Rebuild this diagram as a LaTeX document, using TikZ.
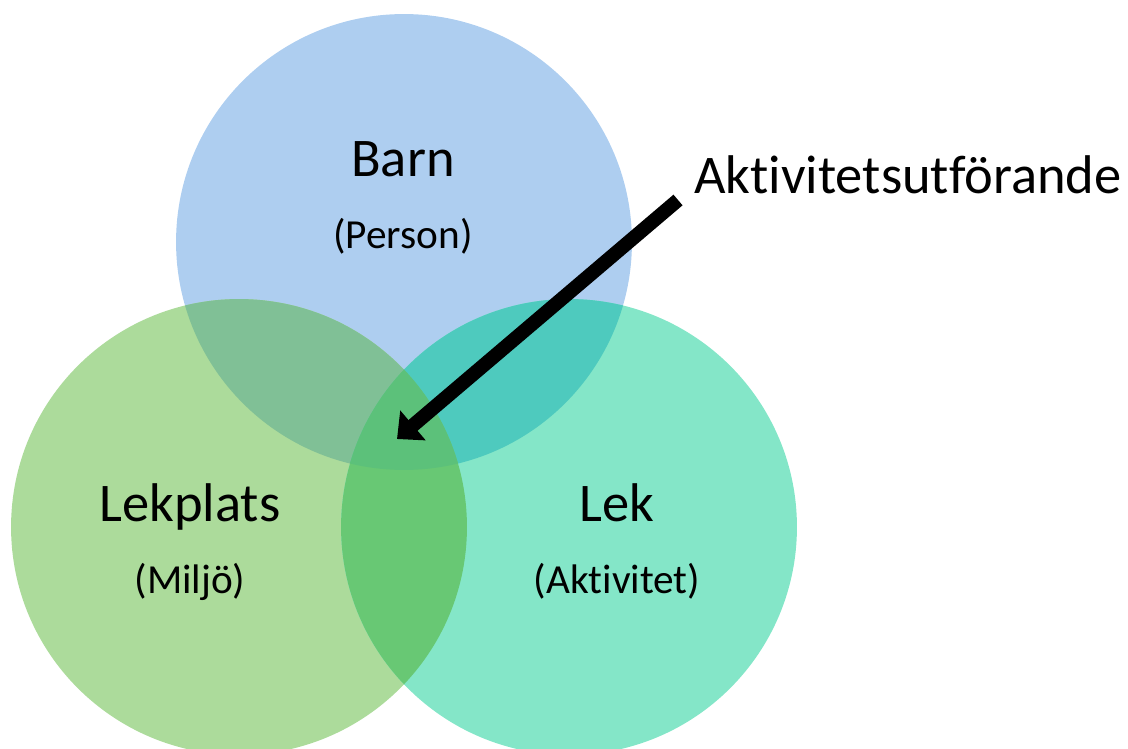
\documentclass[tikz,border=0pt]{standalone}
\usepackage{fontspec}
\setmainfont[Ligatures=NoCommon]{Carlito}
\usetikzlibrary{arrows.meta}
\usetikzlibrary{positioning}
\definecolor{barnblue}{RGB}{174,206,240}
\definecolor{platsgreen}{RGB}{172,219,155}
\definecolor{lekteal}{RGB}{132,230,200}
\definecolor{barnplats}{RGB}{128,192,150}
\definecolor{barnlek}{RGB}{78,202,190}
\definecolor{platslek}{RGB}{104,200,116}
\definecolor{allatre}{RGB}{92,193,122}
\begin{document}
\begin{tikzpicture}
    [x=0.02cm, y=-0.02cm,
    mengd/.style={circle, minimum size=9.12cm, inner sep=0pt},
    rubrik/.style={anchor=base, font=\fontsize{31}{37}\selectfont},
    under/.style={anchor=base, font=\fontsize{23.5}{28}\selectfont},
    pil/.style={line width=0.28cm, -{Triangle[length=0.42cm, width=0.76cm]}}]
  \useasboundingbox (0,0) rectangle (1128,749);
  \clip (0,0) rectangle (1128,749);
  \node [mengd, fill=barnblue] (barn) at (404,242) {};
  \node [mengd, fill=platsgreen] (lekplats) at (239,527) {};
  \node [mengd, fill=lekteal] (lek) at (569,527) {};
  \begin{scope}
    \clip (barn.center) circle (4.56cm);
    \fill [barnplats] (lekplats.center) circle (4.56cm);
    \fill [barnlek] (lek.center) circle (4.56cm);
  \end{scope}
  \begin{scope}
    \clip (lekplats.center) circle (4.56cm);
    \fill [platslek] (lek.center) circle (4.56cm);
    \clip (lek.center) circle (4.56cm);
    \fill [allatre] (barn.center) circle (4.56cm);
  \end{scope}
  \node [rubrik] (barntext) at (403,177) {Barn};
  \node [under] (persontext) at (403,249) {(Person)};
  \node [rubrik] (lekplatstext) at (190,521) {Lekplats};
  \node [under] (miljotext) at (190,593) {(Miljö)};
  \node [rubrik] (lektext) at (617,521) {Lek};
  \node [under] (aktivitettext) at (617,593) {(Aktivitet)};
  \node [rubrik, anchor=base west, inner sep=0pt] (utforande) at (694,194) {Aktivitetsutförande};
  \coordinate (pilstart) at (678,200);
  \coordinate (mitt) at (397,439);
  \draw [pil] (pilstart) -- (mitt);
\end{tikzpicture}
\end{document}
